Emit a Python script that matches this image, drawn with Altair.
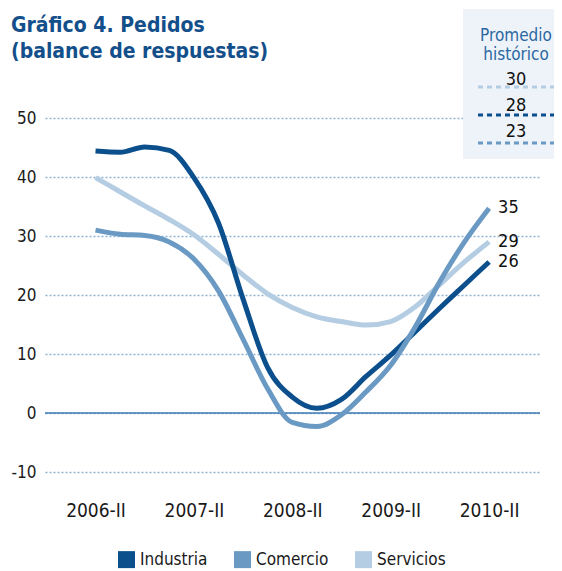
import json
import altair as alt
import pandas as pd

# ---- data ----
periods = ["2006-II", "2006-III", "2006-IV", "2007-I", "2007-II", "2007-III", "2007-IV",
           "2008-I", "2008-II", "2008-III", "2008-IV", "2009-I", "2009-II", "2009-III",
           "2009-IV", "2010-I", "2010-II"]
industria = [44.4, 44.2, 45.1, 44.5, 39.9, 32.2, 19.3, 7.7, 2.7, 0.8, 2.3, 6.2, 9.8, 13.8, 17.8, 21.7, 25.6]
comercio = [31.0, 30.3, 30.1, 29.0, 26.1, 20.7, 12.5, 4.1, -1.6, -2.3, -0.3, 3.6, 8.1, 14.6, 22.3, 29.0, 34.7]
servicios = [39.9, 37.5, 35.1, 32.8, 30.2, 26.9, 23.4, 20.2, 17.9, 16.3, 15.5, 14.9, 15.5, 18.0, 21.8, 25.6, 29.0]
series_names = ["Industria", "Comercio", "Servicios"]
series_colors = ["#0b4f8d", "#6a9ac4", "#b4cde2"]
hist_values = [30, 28, 23]
hist_series = ["Servicios", "Industria", "Comercio"]
y_ticks = [-10, 0, 10, 20, 30, 40, 50]
x_ticks = ["2006-II", "2007-II", "2008-II", "2009-II", "2010-II"]
title_lines = ["Gráfico 4. Pedidos", "(balance de respuestas)"]
box_title = ["Promedio", "histórico"]

rows = []
for name, vals in zip(series_names, [industria, comercio, servicios]):
    for i, (p, v) in enumerate(zip(periods, vals)):
        rows.append({"idx": i, "periodo": p, "serie": name, "valor": v})
df = pd.DataFrame(rows)
color_of = dict(zip(series_names, series_colors))
tick_idx = [periods.index(t) for t in x_ticks]
label_expr = "{}[indexof({}, datum.value)]".format(json.dumps(x_ticks), json.dumps(tick_idx))

FONT = "'DejaVu Sans Condensed', 'Liberation Sans Narrow', 'Roboto Condensed', Roboto, sans-serif"
color_scale = alt.Scale(domain=series_names, range=series_colors)

x_enc = alt.X("idx:Q", scale=alt.Scale(domain=[-2.053, 18.07], nice=False, zero=False),
              axis=alt.Axis(values=tick_idx, labelExpr=label_expr, title=None, labelAngle=0,
                            domain=False, ticks=False, grid=False, labelFont=FONT,
                            labelFontSize=19, labelColor="#1a1a1a", labelPadding=29))
y_enc = alt.Y("valor:Q", scale=alt.Scale(domain=[-10, 50], nice=False, zero=False),
              axis=alt.Axis(values=y_ticks, labelExpr="toString(datum.value)", title=None,
                            domain=False, ticks=False, grid=True,
                            gridDash=[2, 2], gridColor="#8fb3d3", gridWidth=1.3,
                            labelFont=FONT, labelFontSize=17, labelColor="#1a1a1a",
                            labelPadding=9))
legend = alt.Legend(title=None, orient="none", legendX=73, legendY=433, direction="horizontal",
                    symbolType="square", symbolSize=72, symbolStrokeWidth=8.5,
                    labelFont=FONT, labelFontSize=17,
                    labelColor="#1a1a1a", columnPadding=13, labelOffset=5)

layers = []
# zero line
zero = alt.Chart(pd.DataFrame({"valor": [0]})).mark_rule(color="#3d7ab5", strokeWidth=1.5).encode(y=y_enc)
layers.append(zero)

# series lines (draw order: Servicios, Industria, Comercio)
for name in ["Servicios", "Industria", "Comercio"]:
    ln = alt.Chart(df).transform_filter(alt.datum.serie == name).mark_line(
        strokeWidth=5, strokeCap="butt", interpolate="monotone"
    ).encode(x=x_enc, y=y_enc, order="idx:Q",
             color=alt.Color("serie:N", scale=color_scale, legend=legend))
    layers.append(ln)

# end labels
end_lbl = alt.Chart(df).transform_filter(alt.datum.periodo == periods[-1]).mark_text(
    align="left", baseline="middle", dx=9, font=FONT, fontSize=18, color="#111111"
).encode(x=x_enc, y=y_enc, text=alt.Text("valor:Q", format=".0f"))
layers.append(end_lbl)

one = pd.DataFrame({"k": [0]})

# title (two lines, top-left)
title = alt.Chart(one).mark_text(text=title_lines, font=FONT, fontSize=21, fontWeight="bold",
                                 color="#134f8a", align="left", baseline="alphabetic",
                                 lineHeight=25.5).encode(x=alt.value(-34), y=alt.value(-86))
layers.append(title)

# historical-average box
box = alt.Chart(one).mark_rect(color="#edf3f8").encode(
    x=alt.value(418), x2=alt.value(509), y=alt.value(-109), y2=alt.value(41))
layers.append(box)
box_t = alt.Chart(one).mark_text(text=box_title, font=FONT, fontSize=17, color="#2b68a3",
                                 align="center", baseline="alphabetic", lineHeight=19).encode(
    x=alt.value(471), y=alt.value(-77))
layers.append(box_t)
text_y = [-33, -7, 19]
dash_y = [-31, -3, 25]
for val, ser, ty, dy in zip(hist_values, hist_series, text_y, dash_y):
    d = pd.DataFrame({"v": [val]})
    layers.append(alt.Chart(d).mark_text(font=FONT, fontSize=18, color="#111111", align="center",
                                         baseline="alphabetic").encode(
        x=alt.value(471), y=alt.value(ty), text="v:Q"))
    layers.append(alt.Chart(d).mark_rule(color=color_of[ser], strokeDash=[5, 4], strokeWidth=3).encode(
        x=alt.value(433), x2=alt.value(509), y=alt.value(dy)))

chart = alt.layer(*layers).properties(
    width=495, height=354,
    autosize=alt.AutoSizeParams(type="none"),
    padding={"left": 37, "top": 110, "right": 14, "bottom": 99},
).configure_view(stroke=None)

chart.save("out.html", embed_options={"renderer": "svg", "actions": False})
